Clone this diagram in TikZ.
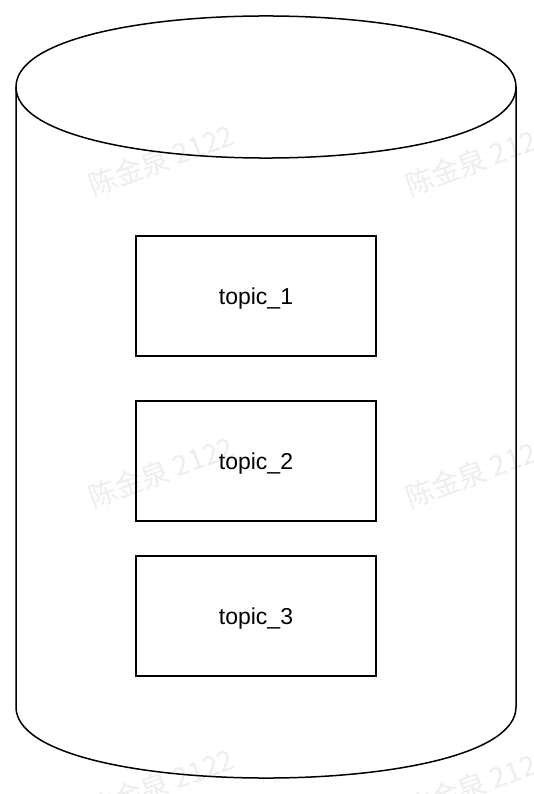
\documentclass[tikz,border=0pt]{standalone}
\usepackage{fontspec}
\setmainfont{Liberation Sans}
\newfontfamily\cjkfont{Noto Sans CJK SC}
\begin{document}
\begin{tikzpicture}[x = 1pt, y = -1pt,
        topicbox/.style = {draw, line width = 1.4pt, minimum width = 240pt, minimum height = 120pt, inner sep = 0pt, text depth = 0pt, font = \fontsize{23}{27}\selectfont},
        wmark/.style = {text = black!7, rotate = 20, font = \cjkfont\fontsize{28}{32}\selectfont}]
            \useasboundingbox (0,0) rectangle (534,794);
            % watermark
            \foreach \wy in {160, 472, 784} {
                \node[wmark] at (161,\wy) {陈金泉 2122};
                \node[wmark] at (478,\wy) {陈金泉 2122};
            }
            \begin{scope}[line width = 1.5pt]
                \draw (16,87) .. controls (16,-7.7) and (516,-7.7) .. (516,87)
                    .. controls (516,181.7) and (16,181.7) .. (16,87);
                \draw (16,87) -- (16,707) .. controls (16,801.7) and (516,801.7) .. (516,707) -- (516,87);
            \end{scope}
            \node[topicbox] (topic1) at (256,296) {topic\_1};
            \node[topicbox] (topic2) at (256,461) {topic\_2};
            \node[topicbox] (topic3) at (256,616) {topic\_3};
        \end{tikzpicture}
\end{document}
